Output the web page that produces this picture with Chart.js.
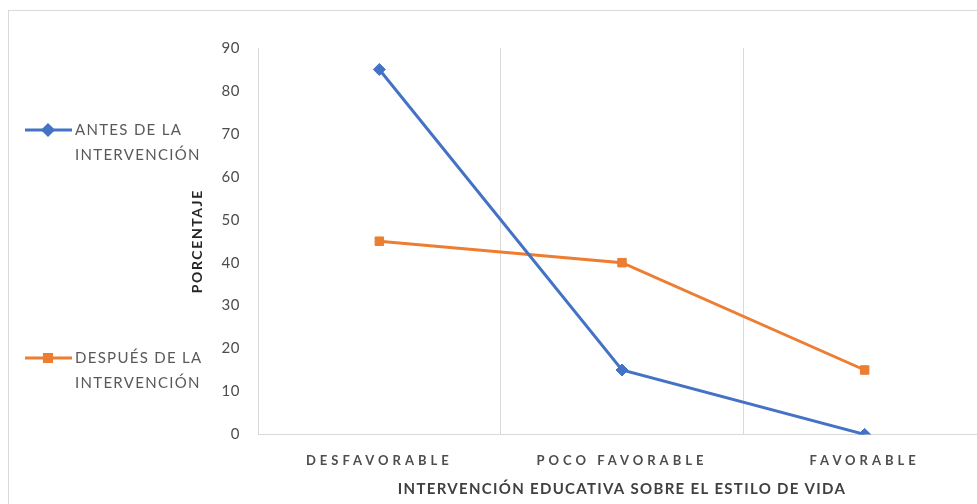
<!DOCTYPE html>
<html>
<head>
<meta charset="utf-8">
<script src="https://cdn.jsdelivr.net/npm/chart.js@4/dist/chart.umd.min.js"></script>
<style>
	body { margin: 0; background: #fff; }
	#wrap { position: relative; width: 977px; height: 504px; overflow: hidden; }
	#frame { position: absolute; left: 8px; top: 10px; width: 1000px; height: 500px; border: 1px solid #d9d9d9; }
	#cnv { position: absolute; left: 0; top: 0; }
</style>
</head>
<body>
<div id="wrap">
	<div id="frame"></div>
	<canvas id="cnv" width="993" height="504"></canvas>
</div>
<script>
const categories = ["DESFAVORABLE", "POCO FAVORABLE", "FAVORABLE"];
const antes = [85, 15, 0];
const despues = [45, 40, 15];
const seriesNames = [["ANTES DE LA", "INTERVENCIÓN"], ["DESPUÉS DE LA", "INTERVENCIÓN"]];
const yTicks = [0, 10, 20, 30, 40, 50, 60, 70, 80, 90];

const blue = "#4472C4";
const orange = "#ED7D31";
const grey = "#595959";
const font = "Lato";

// legend on the left, drawn by hand
const sideLegend = {
	id: "sideLegend",
	afterDraw: (chart) => {
		const ctx = chart.ctx;
		const rows = [
			{ y: 130, color: blue, style: "rectRot", r: 5, text: seriesNames[0] },
			{ y: 358, color: orange, style: "rect", r: 5, text: seriesNames[1] },
		];
		ctx.save();
		rows.forEach((row) => {
			ctx.strokeStyle = row.color;
			ctx.lineWidth = 3;
			ctx.beginPath();
			ctx.moveTo(25, row.y);
			ctx.lineTo(72, row.y);
			ctx.stroke();
			Chart.helpers.drawPoint(ctx, { pointStyle: row.style, radius: row.r, borderWidth: 1 }, 48, row.y);
			ctx.fillStyle = row.color;
			ctx.fill();
			ctx.fillStyle = grey;
			ctx.font = "15px " + font;
			ctx.letterSpacing = "1.3px";
			ctx.textBaseline = "middle";
			ctx.textAlign = "left";
			row.text.forEach((t, i) => ctx.fillText(t, 75, row.y + i * 25));
		});
		ctx.restore();
	},
};

// wider letter spacing for axis text (the original font runs wide)
const spacing = { x: { labels: "4px", title: "1.3px" }, y: { labels: "0.5px", title: "1.6px" } };
const spacedText = {
	id: "spacedText",
	beforeDraw: (chart) => {
		["x", "y"].forEach((id) => {
			const s = chart.scales[id];
			if (s._spaced) return;
			const lab = s.drawLabels.bind(s);
			const tit = s.drawTitle.bind(s);
			s.drawLabels = function (area) {
				this.ctx.save();
				this.ctx.letterSpacing = spacing[id].labels;
				lab(area);
				this.ctx.restore();
			};
			s.drawTitle = function (area) {
				this.ctx.save();
				this.ctx.letterSpacing = spacing[id].title;
				tit(area);
				this.ctx.restore();
			};
			s._spaced = true;
		});
	},
};

const ctx = document.querySelector("#cnv");
const myChart = new Chart(ctx, {
	type: "line",
	data: {
		labels: categories,
		datasets: [
			{
				label: seriesNames[0].join(" "),
				data: antes,
				borderColor: blue,
				backgroundColor: blue,
				borderWidth: 3,
				pointStyle: "rectRot",
				pointRadius: 6,
				pointBorderWidth: 1,
			},
			{
				label: seriesNames[1].join(" "),
				data: despues,
				borderColor: orange,
				backgroundColor: orange,
				borderWidth: 3,
				pointStyle: "rect",
				pointRadius: 6,
				pointBorderWidth: 1,
			},
		],
	},
	options: {
		responsive: false,
		animation: false,
		layout: { padding: { left: 185, top: 48, right: 0, bottom: 6 } },
		plugins: {
			legend: { display: false },
			tooltip: { enabled: false },
		},
		scales: {
			x: {
				offset: true,
				grid: { offset: true, color: "#d9d9d9", drawTicks: false },
				border: { color: "#d9d9d9" },
				ticks: { color: "#4d4d4d", padding: 19, font: { family: font, size: 13, weight: "bold" } },
				title: {
					display: true,
					text: "INTERVENCIÓN EDUCATIVA SOBRE EL ESTILO DE VIDA",
					color: "#404040",
					font: { family: font, size: 15, weight: "bold" },
					padding: { top: -8, bottom: 0 },
				},
			},
			y: {
				min: 0,
				max: 90,
				afterFit: (scale) => { scale.width = 73; },
				afterBuildTicks: (scale) => { scale.ticks = yTicks.map((v) => ({ value: v })); },
				grid: { display: false, drawTicks: false },
				border: { display: false },
				ticks: { color: "#4d4d4d", padding: 18, font: { family: font, size: 15 } },
				title: {
					display: true,
					text: "PORCENTAJE",
					color: "#262626",
					font: { family: font, size: 14, weight: "bold" },
					padding: { top: 4, bottom: 0 },
				},
			},
		},
	},
	plugins: [sideLegend, spacedText],
});
</script>
</body>
</html>
